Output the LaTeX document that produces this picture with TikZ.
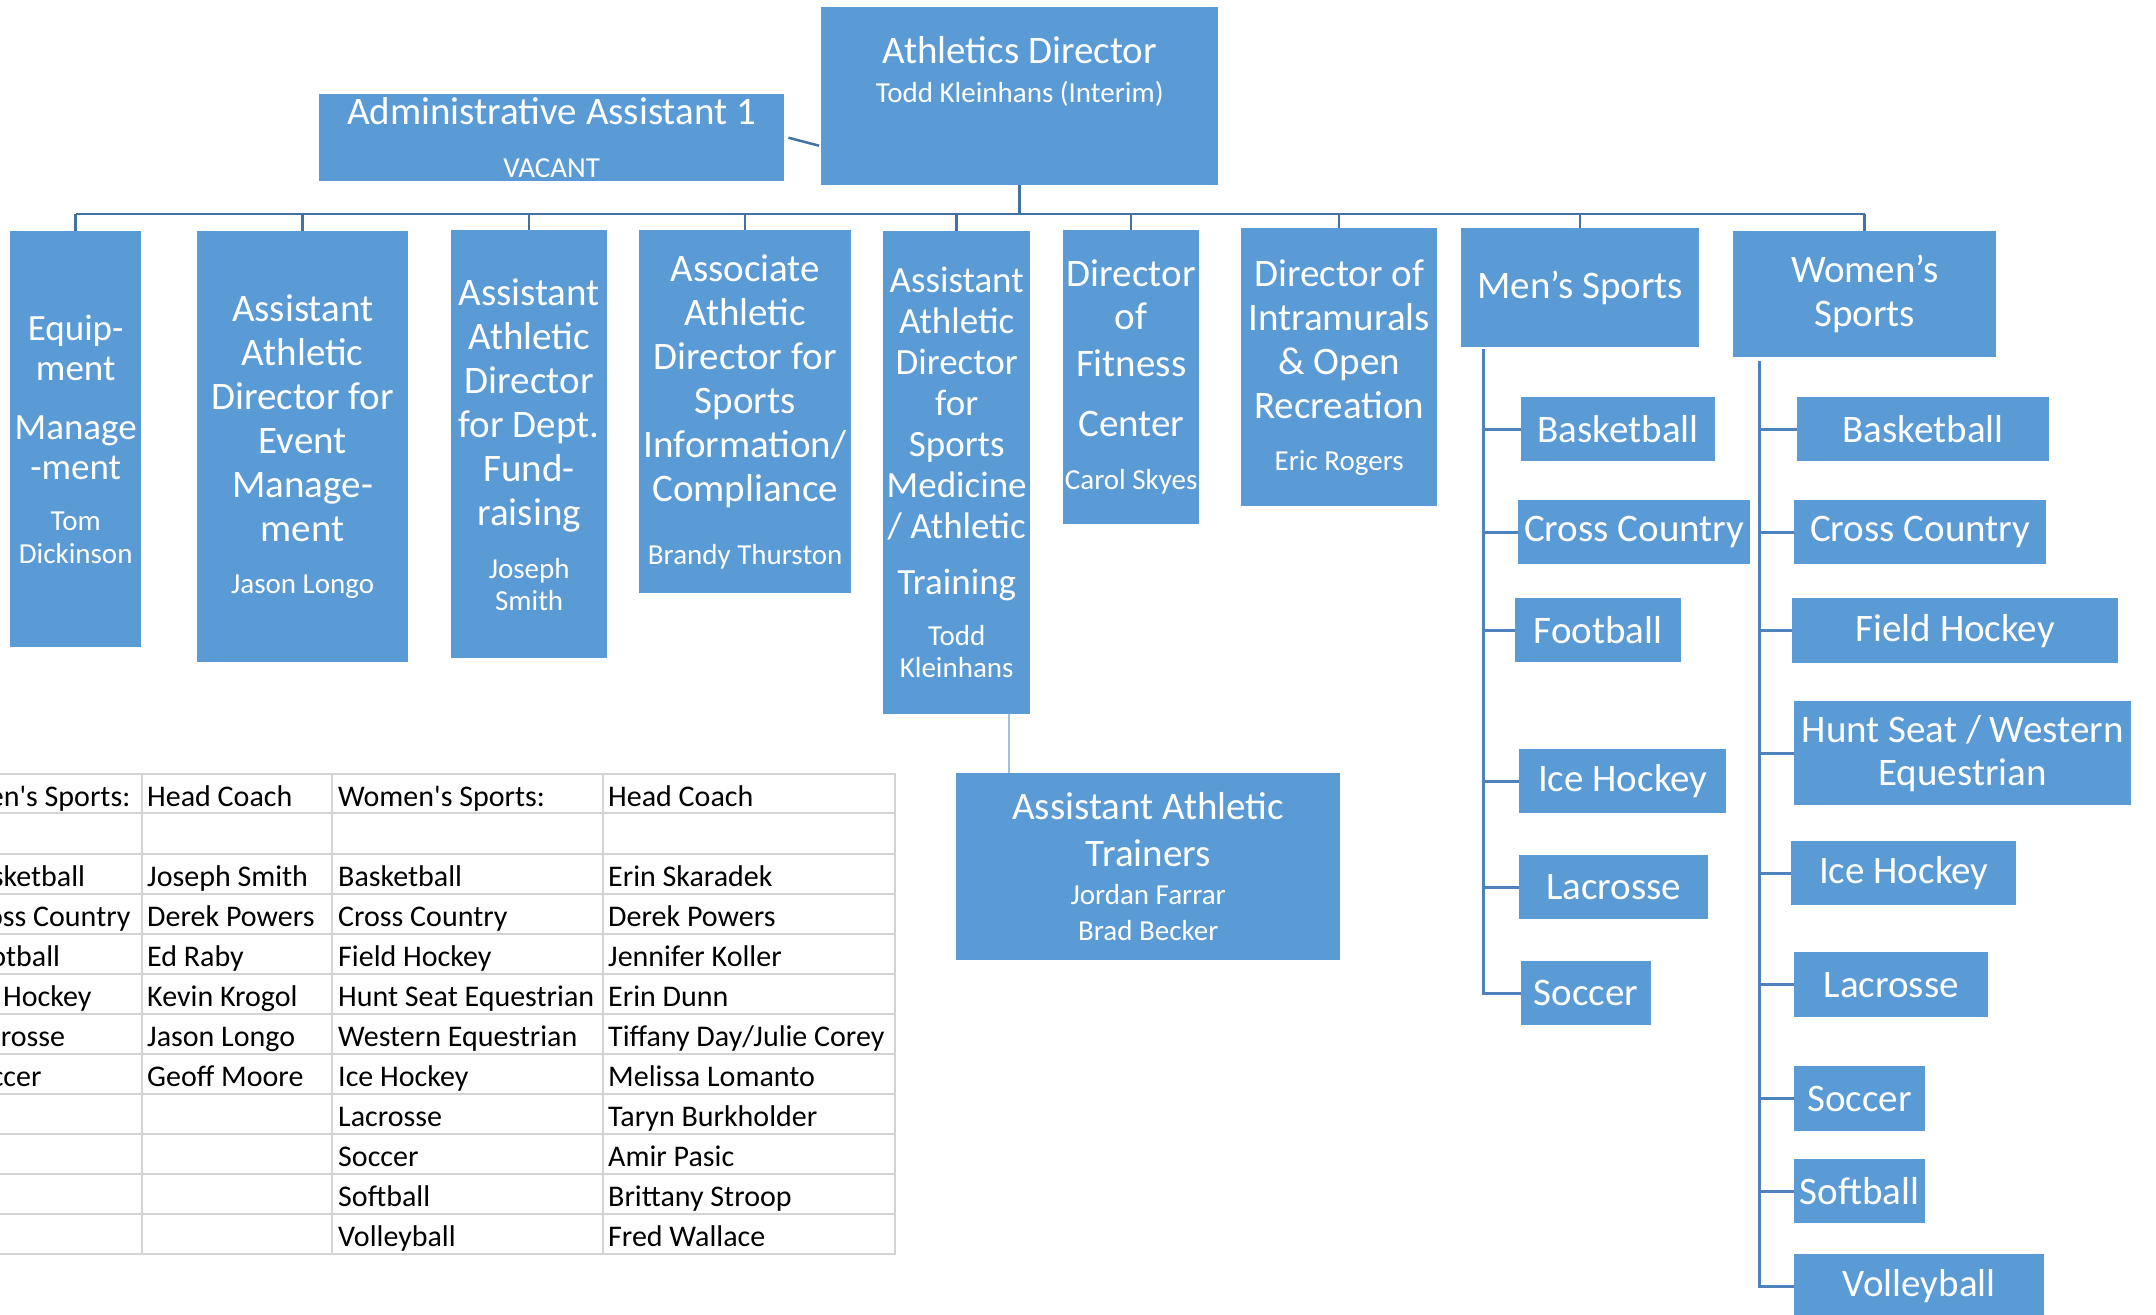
\documentclass[tikz,border=0pt]{standalone}
\usepackage{fontspec}
\setmainfont{Carlito}
\definecolor{boxblue}{RGB}{91,155,213}
\definecolor{linkblue}{RGB}{68,114,160}
\definecolor{sportblue}{RGB}{79,129,189}
\definecolor{trainblue}{RGB}{157,195,230}
\definecolor{rulegray}{RGB}{212,212,212}
\newcommand{\nm}{\fontsize{29}{33}\selectfont}

\begin{document}
\begin{tikzpicture}[x=1pt, y=-1pt,
	box/.style={fill=boxblue, text=white, inner sep=0pt, anchor=north west, align=center, font=\fontsize{39}{44}\selectfont},
	link/.style={draw=linkblue, line width=2.5pt},
	sportlink/.style={draw=sportblue, line width=3pt},
	cell/.style={anchor=base west, inner sep=0pt, font=\fontsize{30}{36}\selectfont},
	tablerule/.style={draw=rulegray, line width=2pt}]

	\useasboundingbox (0,0) rectangle (2156,1315);
	\clip (0,0) rectangle (2156,1315);

	\def \rowA {806}  % baseline of the header row

	% top of the chart
	\node[box, minimum width=397pt, minimum height=178pt] (ad) at (821,7) {Athletics Director\\[-5pt]{\nm Todd Kleinhans (Interim)}\\[10pt]~};
	\node[box, minimum width=465pt, minimum height=87pt] (adm) at (319,94) {Administrative Assistant 1\\[9pt]{\nm VACANT}};

	% second level
	\node[box, minimum width=131pt, minimum height=416pt, font=\fontsize{37}{44}\selectfont] (equip) at (10,231) {Equip-\\[-4pt]ment\\[15pt]Manage\\[-4pt]-ment\\[7pt]{\nm Tom}\\[-11pt]{\nm Dickinson}};
	\node[box, minimum width=211pt, minimum height=431pt] (event) at (197,231) {Assistant\\Athletic\\Director for\\Event\\Manage-\\ment\\[8pt]{\nm Jason Longo}};
	\node[box, minimum width=156pt, minimum height=428pt] (fund) at (451,230) {Assistant\\Athletic\\Director\\for Dept.\\Fund-\\raising\\[9pt]{\nm Joseph}\\[-12pt]{\nm Smith}};
	\node[box, minimum width=212pt, minimum height=363pt] (assoc) at (639,230) {Associate\\Athletic\\Director for\\Sports\\Information/\\Compliance\\[19pt]{\nm Brandy Thurston}};
	\node[box, minimum width=147pt, minimum height=483pt, font=\fontsize{37}{41}\selectfont] (med) at (883,231) {Assistant\\Athletic\\Director\\for\\Sports\\Medicine\\/ Athletic\\[15pt]Training\\[10pt]{\nm Todd}\\[-9pt]{\nm Kleinhans}};
	\node[box, minimum width=136pt, minimum height=294pt] (fit) at (1063,230) {Director\\[-1pt]of\\[3pt]Fitness\\[16pt]Center\\[9pt]{\nm Carol Skyes}};
	\node[box, minimum width=196pt, minimum height=278pt] (intra) at (1241,228) {Director of\\Intramurals\\\& Open\\Recreation\\[8pt]{\nm Eric Rogers}};
	\node[box, minimum width=238pt, minimum height=119pt] (mens) at (1461,228) {Men’s Sports};
	\node[box, minimum width=263pt, minimum height=126pt] (womens) at (1733,231) {Women’s\\Sports};
	\node[box, minimum width=384pt, minimum height=187pt] (trainers) at (956,773) {Assistant Athletic\\[3pt]Trainers\\[-6pt]{\nm Jordan Farrar}\\[-8pt]{\nm Brad Becker}};

	% men's sports
	\node[box, minimum width=194pt, minimum height=64pt] (mBb) at (1521,397) {Basketball};
	\node[box, minimum width=232pt, minimum height=64pt] (mXc) at (1518,500) {Cross Country};
	\node[box, minimum width=166pt, minimum height=64pt] (mFb) at (1515,598) {Football};
	\node[box, minimum width=207pt, minimum height=64pt] (mIh) at (1519,749) {Ice Hockey};
	\node[box, minimum width=189pt, minimum height=64pt] (mLx) at (1519,855) {Lacrosse};
	\node[box, minimum width=130pt, minimum height=64pt] (mSc) at (1521,961) {Soccer};

	% women's sports
	\node[box, minimum width=252pt, minimum height=64pt] (wBb) at (1797,397) {Basketball};
	\node[box, minimum width=252pt, minimum height=64pt] (wXc) at (1794,500) {Cross Country};
	\node[box, minimum width=326pt, minimum height=65pt] (wFh) at (1792,598) {Field Hockey};
	\node[box, minimum width=337pt, minimum height=104pt] (wHs) at (1794,701) {Hunt Seat / Western\\[-1pt]Equestrian};
	\node[box, minimum width=225pt, minimum height=64pt] (wIh) at (1791,841) {Ice Hockey};
	\node[box, minimum width=194pt, minimum height=65pt] (wLx) at (1794,952) {Lacrosse};
	\node[box, minimum width=131pt, minimum height=65pt] (wSc) at (1794,1066) {Soccer};
	\node[box, minimum width=131pt, minimum height=64pt] (wSb) at (1794,1159) {Softball};
	\node[box, minimum width=250pt, minimum height=64pt] (wVb) at (1794,1254) {Volleyball};

	% connectors
	\coordinate (bus) at (0,214);
	\draw[link] (adm.east) ++(4,0) -- ([xshift=-2pt,yshift=-8pt]adm.east -| ad.west);
	\draw[link] (ad.south) -- (ad.south |- bus);
	\draw[link] (equip.north |- bus) -- (womens.north |- bus);
	\draw[link] (equip.north) -- (equip.north |- bus);
	\draw[link] (event.north) -- (event.north |- bus);
	\draw[link] (fund.north) -- (fund.north |- bus);
	\draw[link] (assoc.north) -- (assoc.north |- bus);
	\draw[link] (med.north) -- (med.north |- bus);
	\draw[link] (fit.north) -- (fit.north |- bus);
	\draw[link] (intra.north) -- (intra.north |- bus);
	\draw[link] (mens.north) -- (mens.north |- bus);
	\draw[link] (womens.north) -- (womens.north |- bus);
	\draw[draw=trainblue, line width=2.5pt] ([xshift=53pt]trainers.north west) -- ([xshift=53pt]trainers.north west |- med.south);

	\coordinate (mline) at ([xshift=22pt,yshift=-2pt]mens.south west);
	\draw[sportlink] (mline) |- (mSc.west);
	\draw[sportlink] (mBb.west) -- (mBb.west -| mline);
	\draw[sportlink] (mXc.west) -- (mXc.west -| mline);
	\draw[sportlink] (mFb.west) -- (mFb.west -| mline);
	\draw[sportlink] (mIh.west) -- (mIh.west -| mline);
	\draw[sportlink] (mLx.west) -- (mLx.west -| mline);

	\coordinate (wline) at ([xshift=26pt,yshift=-4pt]womens.south west);
	\draw[sportlink] (wline) |- (wVb.west);
	\draw[sportlink] (wBb.west) -- (wBb.west -| wline);
	\draw[sportlink] (wXc.west) -- (wXc.west -| wline);
	\draw[sportlink] (wFh.west) -- (wFh.west -| wline);
	\draw[sportlink] (wHs.west) -- (wHs.west -| wline);
	\draw[sportlink] (wIh.west) -- (wIh.west -| wline);
	\draw[sportlink] (wLx.west) -- (wLx.west -| wline);
	\draw[sportlink] (wSc.west) -- (wSc.west -| wline);
	\draw[sportlink] (wSb.west) -- (wSb.west -| wline);

	% coach table
	\draw[tablerule] (-44,774) -- (895,774) (-44,813) -- (895,813) (-44,854) -- (895,854)
		(-44,894) -- (895,894) (-44,934) -- (895,934) (-44,974) -- (895,974)
		(-44,1014) -- (895,1014) (-44,1054) -- (895,1054) (-44,1094) -- (895,1094)
		(-44,1134) -- (895,1134) (-44,1174) -- (895,1174) (-44,1214) -- (895,1214)
		(-44,1254) -- (895,1254);
	\draw[tablerule] (142,773) -- (142,1255) (332,773) -- (332,1255)
		(603,773) -- (603,1255) (895,773) -- (895,1255);

	\node[cell] (hMs) at (-37,\rowA) {Men\textquotesingle s Sports:};
	\node[cell] (hMc) at (147,\rowA) {Head Coach};
	\node[cell] (hWs) at (338,\rowA) {Women\textquotesingle s Sports:};
	\node[cell] (hWc) at (608,\rowA) {Head Coach};

	\node[cell] (m1) at (-39,886) {Basketball};
	\node[cell] (m2) at (-39,926) {Cross Country};
	\node[cell] (m3) at (-39,966) {Football};
	\node[cell] (m4) at (-39,1006) {Ice Hockey};
	\node[cell] (m5) at (-39,1046) {Lacrosse};
	\node[cell] (m6) at (-39,1086) {Soccer};
	\node[cell] (mc1) at (147,886) {Joseph Smith};
	\node[cell] (mc2) at (147,926) {Derek Powers};
	\node[cell] (mc3) at (147,966) {Ed Raby};
	\node[cell] (mc4) at (147,1006) {Kevin Krogol};
	\node[cell] (mc5) at (147,1046) {Jason Longo};
	\node[cell] (mc6) at (147,1086) {Geoff Moore};

	\node[cell] (w1) at (338,886) {Basketball};
	\node[cell] (w2) at (338,926) {Cross Country};
	\node[cell] (w3) at (338,966) {Field Hockey};
	\node[cell] (w4) at (338,1006) {Hunt Seat Equestrian};
	\node[cell] (w5) at (338,1046) {Western Equestrian};
	\node[cell] (w6) at (338,1086) {Ice Hockey};
	\node[cell] (w7) at (338,1126) {Lacrosse};
	\node[cell] (w8) at (338,1166) {Soccer};
	\node[cell] (w9) at (338,1206) {Softball};
	\node[cell] (w10) at (338,1246) {Volleyball};
	\node[cell] (wc1) at (608,886) {Erin Skaradek};
	\node[cell] (wc2) at (608,926) {Derek Powers};
	\node[cell] (wc3) at (608,966) {Jennifer Koller};
	\node[cell] (wc4) at (608,1006) {Erin Dunn};
	\node[cell] (wc5) at (608,1046) {Tiffany Day/Julie Corey};
	\node[cell] (wc6) at (608,1086) {Melissa Lomanto};
	\node[cell] (wc7) at (608,1126) {Taryn Burkholder};
	\node[cell] (wc8) at (608,1166) {Amir Pasic};
	\node[cell] (wc9) at (608,1206) {Brittany Stroop};
	\node[cell] (wc10) at (608,1246) {Fred Wallace};

\end{tikzpicture}
\end{document}
